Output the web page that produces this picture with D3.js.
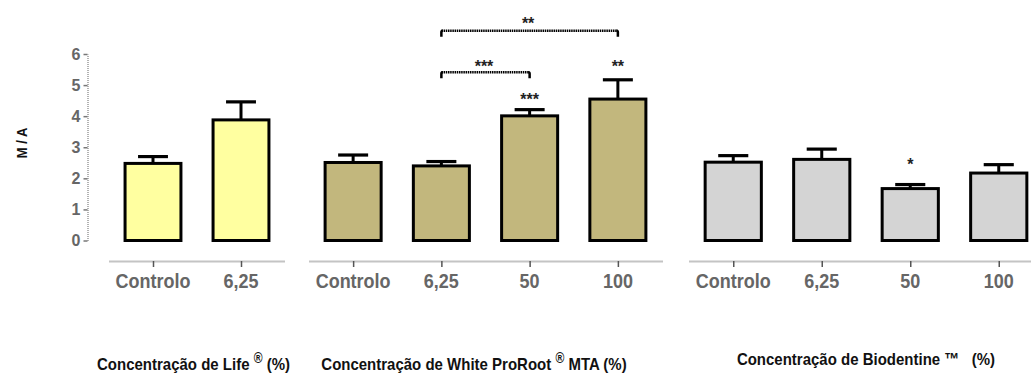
<!DOCTYPE html>
<html>
<head>
<meta charset="utf-8">
<script src="https://cdn.jsdelivr.net/npm/d3@7"></script>
<style>
  body { margin: 0; background: #fff; }
  svg { display: block; font-family: "Liberation Sans", Arial, sans-serif; }
  text { white-space: pre; }
</style>
</head>
<body>
<svg id="chart" width="1031" height="374"></svg>
<script>
// Data
const yTicks = [0, 1, 2, 3, 4, 5, 6];

const lifeCats = ["Controlo", "6,25"];
const lifeMeans = [2.48, 3.88];
const lifeErr = [2.70, 4.46];
const lifeStars = ["", ""];
const lifeStarLevel = [0, 0];

const mtaCats = ["Controlo", "6,25", "50", "100"];
const mtaMeans = [2.51, 2.40, 4.01, 4.55];
const mtaErr = [2.75, 2.54, 4.21, 5.17];
const mtaStars = ["", "", "***", "**"];
const mtaStarLevel = [0, 0, 4.66, 5.70];

const bioCats = ["Controlo", "6,25", "50", "100"];
const bioMeans = [2.52, 2.61, 1.67, 2.17];
const bioErr = [2.73, 2.94, 1.80, 2.44];
const bioStars = ["", "", "*", ""];
const bioStarLevel = [0, 0, 2.56, 0];

// comparison brackets inside the MTA group
const bracketFrom = ["6,25", "6,25"];
const bracketTo = ["50", "100"];
const bracketText = ["***", "**"];
const bracketLevel = [5.41, 6.75];
const bracketTextLevel = [5.72, 7.09];

const groupTitles = ["Concentração de Life", "Concentração de White ProRoot", "Concentração de Biodentine"];

const svg = d3.select('#chart');

const y = d3.scaleLinear().domain([0, 6]).range([240.5, 54]);

// y axis
const yAxis = svg.append('g')
    .attr('transform', 'translate(87.5,0)')
    .call(d3.axisLeft(y).tickValues(yTicks).tickFormat(d3.format('d'))
        .tickSize(4).tickPadding(3).tickSizeOuter(0));
yAxis.select('.domain').attr('stroke', '#999').attr('stroke-width', 1.5).attr('stroke-dasharray', '1,1');
yAxis.selectAll('.tick line').attr('stroke', '#777').attr('stroke-width', 1.5);
yAxis.selectAll('.tick text')
    .attr('fill', '#666')
    .style('font-size', '16px')
    .style('font-weight', 'bold');

// y label
svg.append('g')
    .attr('transform', 'translate(26.5,143) rotate(-90) scale(1,1.15)')
    .append('text')
    .attr('text-anchor', 'middle')
    .style('font-size', '13px')
    .style('font-weight', 'bold')
    .attr('fill', '#111')
    .text('M / A');

function drawGroup(cats, means, errs, stars, starLevel, range, fill) {
    const x = d3.scalePoint().domain(cats).range(range).padding(0.5);
    const step = x.step();
    const barW = step * 0.635;
    const capW = step * 0.34;
    const g = svg.append('g');

    // error bars first so the bar outline covers the stem bottom
    cats.forEach((c, i) => {
        g.append('line')
            .attr('x1', x(c)).attr('x2', x(c))
            .attr('y1', y(means[i])).attr('y2', y(errs[i]))
            .attr('stroke', '#000').attr('stroke-width', 3);
        g.append('line')
            .attr('x1', x(c) - capW / 2).attr('x2', x(c) + capW / 2)
            .attr('y1', y(errs[i])).attr('y2', y(errs[i]))
            .attr('stroke', '#000').attr('stroke-width', 3.2);
    });

    g.selectAll('rect.bar')
        .data(cats)
        .join('rect')
        .attr('class', 'bar')
        .attr('x', d => x(d) - barW / 2)
        .attr('width', barW)
        .attr('y', (d, i) => y(means[i]))
        .attr('height', (d, i) => y(0) - y(means[i]))
        .attr('fill', fill)
        .attr('stroke', '#000')
        .attr('stroke-width', 3);

    cats.forEach((c, i) => {
        if (!stars[i]) return;
        g.append('text')
            .attr('x', x(c))
            .attr('y', y(starLevel[i]) + 9)
            .attr('text-anchor', 'middle')
            .style('font-size', '16px')
            .style('font-weight', 'bold')
            .attr('fill', '#222')
            .text(stars[i]);
    });

    // x axis
    const xAxis = svg.append('g')
        .attr('transform', 'translate(0,261)')
        .call(d3.axisBottom(x).tickSize(6).tickSizeOuter(0));
    xAxis.select('.domain').attr('stroke', '#888').attr('stroke-width', 2).attr('stroke-dasharray', '1,1');
    xAxis.selectAll('.tick line').attr('stroke', '#555').attr('stroke-width', 1.5);
    xAxis.selectAll('.tick text').remove();

    cats.forEach(c => {
        svg.append('g')
            .attr('transform', `translate(${x(c)},288) scale(1,1.15)`)
            .append('text')
            .attr('text-anchor', 'middle')
            .style('font-size', '18px')
            .style('font-weight', 'bold')
            .attr('fill', '#666')
            .text(c);
    });
    return x;
}

drawGroup(lifeCats, lifeMeans, lifeErr, lifeStars, lifeStarLevel, [109, 285], '#FFFFA0');
const xMta = drawGroup(mtaCats, mtaMeans, mtaErr, mtaStars, mtaStarLevel, [309, 662], '#C2B77D');
drawGroup(bioCats, bioMeans, bioErr, bioStars, bioStarLevel, [689, 1043], '#D4D4D4');

// brackets
bracketFrom.forEach((f, i) => {
    const x1 = xMta(f), x2 = xMta(bracketTo[i]), by = y(bracketLevel[i]);
    svg.append('line')
        .attr('x1', x1).attr('x2', x2).attr('y1', by).attr('y2', by)
        .attr('stroke', '#000').attr('stroke-width', 2.5).attr('stroke-dasharray', '1.5,0.7');
    svg.append('path')
        .attr('d', `M${x1},${by + 6}V${by + 1.5}Q${x1},${by} ${x1 + 1.5},${by}M${x2 - 1.5},${by}Q${x2},${by} ${x2},${by + 1.5}V${by + 6}`)
        .attr('fill', 'none').attr('stroke', '#000').attr('stroke-width', 2.5);
    svg.append('text')
        .attr('x', (x1 + x2) / 2 - 1.5)
        .attr('y', y(bracketTextLevel[i]) + 9)
        .attr('text-anchor', 'middle')
        .style('font-size', '16px')
        .style('font-weight', 'bold')
        .attr('fill', '#222')
        .text(bracketText[i]);
});

// group titles
function title(x, yPos, parts) {
    const t = svg.append('g')
        .attr('transform', `translate(${x},${yPos}) scale(1,1.15)`)
        .append('text')
        .attr('text-anchor', 'middle')
        .style('font-size', '15px')
        .style('font-weight', 'bold')
        .attr('fill', '#111');
    parts.forEach(p => {
        t.append('tspan')
            .attr('dy', p.dy || 0)
            .style('font-size', p.size || '15px')
            .text(p.text);
    });
}

title(193.5, 370, [
    { text: groupTitles[0] + ' ' },
    { text: '®', size: '12px', dy: -6 },
    { text: ' (%)', dy: 6 }
]);
title(474, 370, [
    { text: groupTitles[1] + ' ' },
    { text: '®', size: '12px', dy: -6 },
    { text: ' MTA (%)', dy: 6 }
]);
title(866, 365, [
    { text: groupTitles[2] + ' ' },
    { text: '™', size: '15px' },
    { text: '   (%)' }
]);
</script>
</body>
</html>
